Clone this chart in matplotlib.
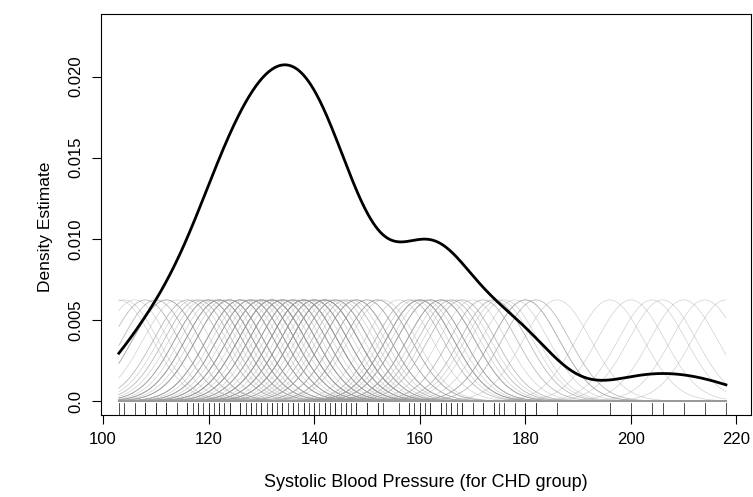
import numpy as np
import matplotlib
matplotlib.use("Agg")
import matplotlib.pyplot as plt
import matplotlib.transforms as mtransforms

plt.rcParams['font.family'] = ['Liberation Sans', 'DejaVu Sans']

# systolic blood pressure, CHD group (read from the rug)
sbp_chd = [
    103, 104, 106, 108, 108, 110, 110, 112, 112, 112,
    114, 116, 116, 117, 118, 118, 119, 120, 120, 120, 120, 121, 122, 122, 122,
    122, 122, 123,
    124, 124, 124, 124, 124,
    126, 126, 126, 126, 126, 127, 128, 128, 128, 128, 128, 129, 130, 130, 130,
    130, 130, 130, 131, 132, 132, 132, 132, 132, 132, 132, 133, 134, 134, 134,
    134, 134, 134, 135, 136, 136, 136, 136, 136,
    137, 138, 138, 138, 138, 138, 138, 138, 139, 140, 140, 140, 140, 140, 140,
    141, 142, 142, 142, 142, 142, 142, 142, 143, 144, 144, 144, 144, 145, 146,
    146,
    147, 148, 148, 148, 148, 150, 150, 150, 152, 152, 152, 153,
    156, 158, 158, 159, 160, 160, 160, 160, 160,
    161, 162, 162, 162, 162, 164, 164, 164, 164, 165, 166, 166, 167, 168, 168,
    170,
    172, 172, 174, 174, 175, 176, 178, 180, 180, 180,
    182, 182, 186,
    196, 200, 204, 206, 210, 214, 218,
]
bandwidth = 6.4
kernel_scale = 10  # kernels drawn scaled down by this factor

x_ticks = [100, 120, 140, 160, 180, 200, 220]
y_ticks = [0.0, 0.005, 0.010, 0.015, 0.020]
y_tick_labels = ['0.0', '0.005', '0.010', '0.015', '0.020']


def gauss(u, lam):
    return np.exp(-0.5 * (u / lam) ** 2) / (lam * np.sqrt(2 * np.pi))


data = np.array(sbp_chd, dtype=float)
grid = np.linspace(data.min(), data.max(), 500)
kernels = gauss(grid[None, :] - data[:, None], bandwidth)
density = kernels.mean(axis=0)

fig = plt.figure(figsize=(7.53, 4.97), dpi=100)
ax = fig.add_axes([0.134, 0.165, 0.863, 0.807])

# individual kernels, scaled down
for k in kernels:
    ax.plot(grid, k / kernel_scale, color='0.6', linewidth=0.5, alpha=0.45)

ax.plot(grid, density, color='black', linewidth=2.0)

# rug along the bottom
trans = mtransforms.blended_transform_factory(ax.transData, ax.transAxes)
for v in data:
    ax.plot([v, v], [0, 0.03], color='0.2', linewidth=0.6, transform=trans)

ax.set_xlim(99.6, 222.7)
ax.set_ylim(-0.00086, 0.02386)
ax.set_xticks(x_ticks)
ax.set_yticks(y_ticks)
ax.set_yticklabels(y_tick_labels, rotation=90, va='center')
ax.tick_params(direction='out', length=6.5, width=0.8, labelsize=12, pad=6)
for s in ax.spines.values():
    s.set_linewidth(0.8)

ax.set_xlabel('Systolic Blood Pressure (for CHD group)', fontsize=13, labelpad=19)
ax.set_ylabel('Density Estimate', fontsize=12.5, labelpad=13)
ax.yaxis.set_label_coords(-0.073, 0.47)

fig.savefig('out.png', dpi=100)
